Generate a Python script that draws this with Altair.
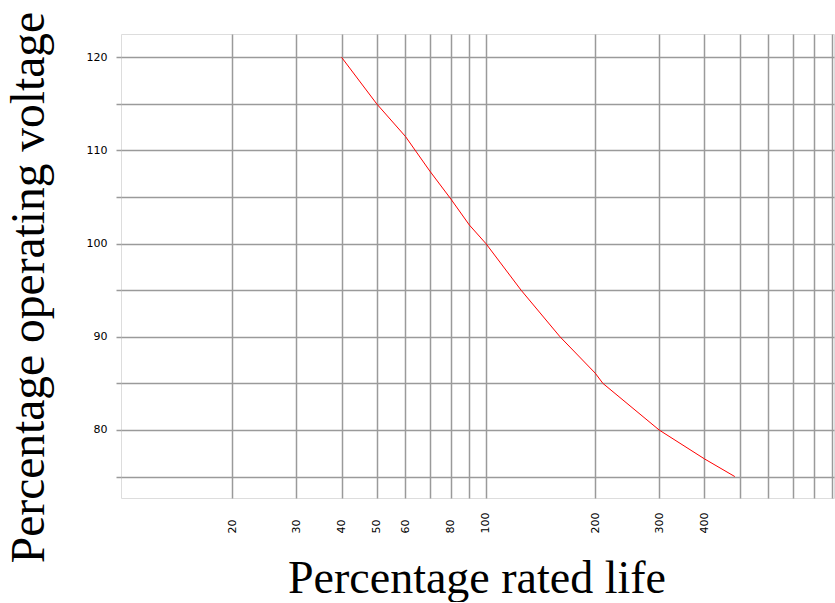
import altair as alt
import pandas as pd

# Percentage rated life (x, log scale) vs percentage operating voltage (y)
life = [40, 50, 60, 70, 80, 90, 100, 125, 160, 200, 210, 300, 400, 485]
voltage = [120, 115, 111.5, 107.8, 104.8, 102, 100, 95, 90, 86.1, 85, 80, 76.9, 75]

x_grid = [20, 30, 40, 50, 60, 70, 80, 90, 100, 200, 300, 400, 500, 600, 700, 800, 900]
x_labels = [20, 30, 40, 50, 60, 80, 100, 200, 300, 400]
y_grid = [75, 80, 85, 90, 95, 100, 105, 110, 115, 120]

df = pd.DataFrame({"life": life, "voltage": voltage})

label_list = ",".join(str(v) for v in x_labels)

chart = alt.Chart(df).mark_line(color="#ff0000", strokeWidth=1).encode(
    x=alt.X(
        "life:Q",
        scale=alt.Scale(type="log", domain=[9.87, 910], nice=False),
        axis=alt.Axis(
            values=x_grid,
            labelExpr=f"indexof([{label_list}], datum.value) >= 0 ? datum.label : ''",
            title="Percentage rated life",
            titleFont="Liberation Serif",
            titleFontSize=46,
            titleFontWeight="normal",
            titleColor="black",
            titleX=355.5,
            titleY=94,
            titleAlign="center",
            titleBaseline="alphabetic",
            labelAngle=270,
            labelAlign="left",
            labelBaseline="middle",
            labelPadding=35,
            labelFont="DejaVu Sans",
            labelFontSize=11,
            labelColor="black",
            ticks=False,
            tickSize=0,
            domain=False,
            grid=True,
            gridColor="#9a9a9a",
            gridWidth=1.5,
            gridOpacity=1,
            labelOverlap=False,
            labelFlush=False,
        ),
    ),
    y=alt.Y(
        "voltage:Q",
        scale=alt.Scale(domain=[72.7, 122.5], nice=False, zero=False),
        axis=alt.Axis(
            values=y_grid,
            labelExpr="datum.value % 10 == 0 ? datum.label : ''",
            title="Percentage operating voltage",
            titleFont="Liberation Serif",
            titleFontSize=47.5,
            titleFontWeight="normal",
            titleColor="black",
            titleAngle=270,
            titleX=-78,
            titleY=253,
            titleAlign="center",
            titleBaseline="alphabetic",
            labelFont="DejaVu Sans",
            labelFontSize=11,
            labelColor="black",
            labelPadding=9,
            tickSize=5,
            tickColor="#9a9a9a",
            tickWidth=1.5,
            domain=False,
            grid=True,
            gridColor="#9a9a9a",
            gridWidth=1.5,
            gridOpacity=1,
            labelOverlap=False,
            labelFlush=False,
        ),
    ),
).properties(
    width=713,
    height=464,
    autosize=alt.AutoSizeParams(type="none"),
    padding={"left": 121, "top": 34, "right": 1, "bottom": 104},
).configure_view(
    stroke="#9a9a9a",
    strokeWidth=1.5,
).configure(background="white")

chart.save("out.html", embed_options={"renderer": "svg", "actions": False})
